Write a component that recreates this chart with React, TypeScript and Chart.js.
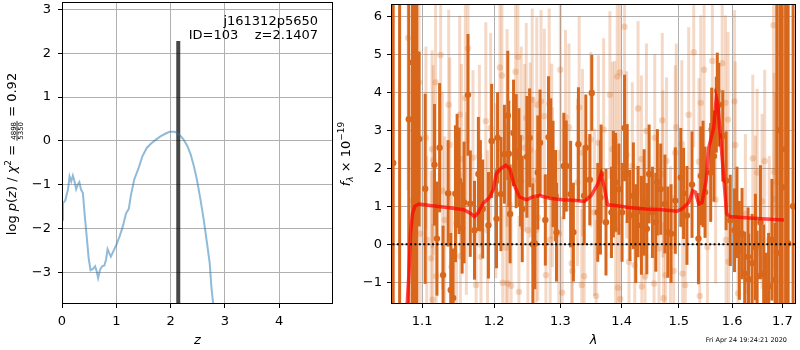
import React, { useEffect, useRef } from "react";
import { Chart, registerables } from "chart.js";
Chart.register(...registerables);

const FONT = "'DejaVu Sans', sans-serif";

// ---------- left panel: log p(z) ----------
const zGrid = [0, 0.018, 0.06, 0.11, 0.14, 0.17, 0.2, 0.23, 0.26, 0.29, 0.32, 0.35, 0.385, 0.415, 0.46, 0.49, 0.525, 0.57, 0.61, 0.64, 0.665, 0.7, 0.74, 0.78, 0.81, 0.84, 0.87, 0.9, 0.93, 1.0, 1.06, 1.12, 1.18, 1.23, 1.27, 1.33, 1.41, 1.48, 1.56, 1.64, 1.73, 1.82, 1.91, 1.98, 2.08, 2.16, 2.23, 2.31, 2.37, 2.43, 2.49, 2.55, 2.61, 2.67, 2.72, 2.75, 2.785, 2.82];
const logPz = [-1.8, -1.42, -1.36, -1.11, -0.81, -0.92, -0.79, -0.92, -1.1, -1.0, -0.94, -1.11, -1.19, -1.65, -2.25, -2.67, -2.95, -2.92, -2.86, -2.98, -3.13, -2.94, -2.86, -2.84, -2.71, -2.47, -2.56, -2.64, -2.56, -2.37, -2.18, -1.95, -1.65, -1.55, -1.23, -0.88, -0.62, -0.35, -0.16, -0.06, 0.03, 0.11, 0.17, 0.21, 0.21, 0.14, 0.05, -0.12, -0.31, -0.58, -0.92, -1.34, -1.8, -2.33, -2.79, -3.32, -3.74, -4.1];
const zBest = 2.1407;
const zMarkerRange = [-4.5, 2.28];
const zTicks = [0, 1, 2, 3, 4];
const logPTicks = [-3, -2, -1, 0, 1, 2, 3];
const annotLines = ["j161312p5650", "ID=103    z=2.1407"];

// ---------- right panel: spectrum ----------
const lamDark = [1.0622, 1.0705, 1.0824, 1.0873, 1.0903, 1.093, 1.096, 1.1041, 1.1166, 1.1199, 1.1235, 1.1282, 1.1351, 1.1387, 1.142, 1.1452, 1.1475, 1.1503, 1.1545, 1.1572, 1.1627, 1.1659, 1.1719, 1.1774, 1.1802, 1.1835, 1.1918, 1.1964, 1.2035, 1.205, 1.2099, 1.215, 1.22, 1.2215, 1.2234, 1.2285, 1.2324, 1.2365, 1.2388, 1.2415, 1.2485, 1.2526, 1.2575, 1.2605, 1.265, 1.2685, 1.2766, 1.2815, 1.285, 1.2886, 1.2925, 1.294, 1.3055, 1.3093, 1.3162, 1.3206, 1.3287, 1.338, 1.3406, 1.3471, 1.3503, 1.3601, 1.3645, 1.3656, 1.3737, 1.3828, 1.386, 1.3899, 1.3953, 1.4007, 1.4049, 1.4094, 1.4141, 1.4199, 1.424, 1.428, 1.4338, 1.4385, 1.4432, 1.4472, 1.453, 1.4589, 1.4617, 1.4676, 1.4751, 1.4803, 1.4861, 1.4937, 1.5037, 1.5088, 1.5149, 1.5242, 1.5361, 1.5404, 1.5447, 1.5484, 1.559, 1.5609, 1.5652, 1.5696, 1.5715, 1.5745, 1.5819, 1.5883, 1.5963, 1.6046, 1.6093, 1.6139, 1.6192, 1.6244, 1.6311, 1.6323, 1.6391, 1.6456, 1.649, 1.6556, 1.6621, 1.6669, 1.672, 1.6788, 1.6853, 1.6887, 1.6952, 1.6998, 1.7067, 1.712, 1.7222];
const fluxDark = [2.14, 6.8, 3.29, 4.78, 5.41, 4.65, 2.77, 1.46, 2.09, 0.15, 2.54, -0.81, 1.34, -1.2, -1.41, 1.33, 1.93, 1.67, 0.43, 1.1, 3.93, 1.07, 0.37, 1.85, 1.54, 0.93, 0.5, 2.72, 0.67, 2.8, 1.32, 2.37, 3.39, 2.38, 0.8, 2.93, 2.45, 2.28, 1.67, 0.93, 2.3, 2.8, 0.0, 0.02, 1.89, 2.67, 0.64, 2.82, 2.54, 1.85, 1.28, 0.32, 2.06, 2.06, 1.32, 0.32, 2.63, 1.28, 2.54, 1.7, 3.98, 0.84, 1.23, 1.85, 0.58, 0.84, 1.58, 1.63, 1.45, 0.84, 3.06, 1.86, 0.76, 1.28, 0.28, 0.86, 0.5, 1.1, 0.41, 1.85, 0.84, 0.58, 1.63, 1.45, 1.06, 0.32, 0.28, 1.15, 1.76, 1.34, 0.76, 1.57, 0.15, 1.8, 1.85, 1.37, 1.89, 3.02, 2.32, 3.41, 4.04, 3.67, 2.85, 1.67, 0.63, 0.37, 0.84, -0.16, 0.28, -0.77, -0.33, -0.92, -0.5, -0.07, -0.84, 0.58, -0.78, -1.42, -1.1, 0.12, -0.94, -0.23, 3.0, 1.5, 2.5, 0.02, 1.0];
const errDark = [10, 10, 10, 10, 10, 10, 2.3, 2.5, 1.6, 1.5, 1.7, 1.3, 1.4, 1.5, 1.3, 1.8, 1.5, 1.4, 1.2, 1.6, 1.6, 1.4, 1.3, 1.5, 1.2, 1.3, 1.4, 1.5, 1.3, 1.2, 1.5, 1.3, 1.7, 1.4, 1.3, 1.4, 1.5, 1.3, 1.2, 1.4, 1.6, 1.3, 1.6, 1.2, 1.5, 1.4, 1.2, 1.6, 1.3, 1.4, 1.2, 1.3, 1.4, 1.2, 1.4, 1.3, 1.5, 1.3, 1.4, 1.2, 1.0, 1.3, 1.5, 1.3, 1.4, 1.2, 1.4, 1.3, 1.2, 1.3, 1.4, 1.3, 1.2, 1.4, 1.3, 1.2, 1.3, 1.4, 1.2, 1.3, 1.2, 1.3, 1.4, 1.2, 1.3, 1.2, 1.3, 1.4, 1.3, 1.2, 1.3, 1.4, 1.2, 1.3, 1.4, 1.2, 1.3, 1.1, 1.2, 1.0, 1.0, 1.1, 1.2, 1.3, 1.2, 1.1, 1.2, 1.3, 1.2, 1.1, 1.3, 1.2, 1.3, 1.4, 1.2, 1.5, 1.3, 1.2, 1.4, 1.6, 1.5, 10, 10, 10, 10, 10, 10];

const lamLight = [1.0815, 1.086, 1.0903, 1.0917, 1.096, 1.0974, 1.1051, 1.1062, 1.112, 1.1134, 1.1141, 1.1148, 1.118, 1.1189, 1.1249, 1.1272, 1.1304, 1.1359, 1.1373, 1.1397, 1.1466, 1.1511, 1.1521, 1.1535, 1.159, 1.1604, 1.1627, 1.1697, 1.1742, 1.1788, 1.1811, 1.188, 1.1904, 1.1949, 1.2024, 1.2084, 1.2114, 1.2125, 1.2174, 1.2189, 1.22, 1.2249, 1.2315, 1.235, 1.2365, 1.24, 1.2451, 1.2475, 1.25, 1.2535, 1.2565, 1.2575, 1.2625, 1.2635, 1.265, 1.27, 1.2751, 1.2775, 1.2826, 1.2841, 1.2865, 1.2876, 1.2976, 1.3, 1.3028, 1.3081, 1.3136, 1.3179, 1.319, 1.3271, 1.3299, 1.3341, 1.3352, 1.338, 1.3487, 1.3547, 1.3575, 1.3612, 1.3698, 1.3802, 1.3844, 1.3883, 1.3899, 1.3925, 1.3936, 1.3969, 1.3977, 1.4049, 1.4084, 1.4124, 1.4181, 1.4223, 1.428, 1.4338, 1.4345, 1.4402, 1.4425, 1.4559, 1.4571, 1.4646, 1.4704, 1.4716, 1.4725, 1.4763, 1.478, 1.485, 1.4908, 1.4937, 1.4955, 1.5056, 1.5069, 1.5119, 1.5181, 1.5274, 1.5372, 1.5385, 1.5404, 1.5466, 1.5529, 1.5622, 1.5683, 1.5808, 1.587, 1.5883, 1.592, 1.5931, 1.6046, 1.606, 1.6113, 1.6258, 1.6403, 1.6456, 1.649, 1.6589, 1.6641, 1.6734, 1.6819, 1.6833, 1.6853, 1.6887, 1.6952];
const fluxLight = [5.43, 1.15, 1.5, 2.54, 4.26, 0.28, 2.8, 0.12, -0.37, 2.5, -1.46, 2.21, 4.26, -0.84, 4.98, 1.41, 0.64, 3.67, 2.61, -0.59, 0.56, 3.41, -0.31, 2.24, 3.85, 1.07, 5.15, 2.28, -1.07, 2.32, -0.33, 3.24, 0.37, 3.06, 1.41, 4.65, 4.44, -1.01, -0.09, 3.06, -1.03, -1.09, 4.54, 4.93, -1.25, 2.8, 2.54, 3.32, 0.37, 2.48, 3.8, 1.67, 0.38, 3.67, 0.71, 3.76, 3.37, -0.81, 3.7, 0.12, 2.45, 1.5, 0.28, 4.59, -1.27, 3.34, 3.08, -0.5, -0.7, 1.63, 3.6, -1.07, 2.41, -0.84, 2.76, 0.84, -1.36, 2.67, 3.02, 3.93, 2.5, 2.72, 0.38, 4.41, -1.14, 4.52, -1.44, 5.72, 2.35, -0.46, 2.06, -0.55, 3.57, 2.24, -1.11, -0.85, 2.98, -1.03, 2.8, -0.11, 3.26, 1.85, -1.42, -0.81, 2.19, -0.05, -0.7, 2.41, 3.08, 2.64, -0.77, -1.07, 3.41, 5.05, 2.17, -1.36, 3.72, 4.59, -0.07, 4.82, 1.17, 4.76, 3.72, 0.12, 3.28, -0.46, 3.76, 2.61, -1.29, 0.8, 2.26, 0.56, 1.89, 1.13, 2.19, 0.12, 5.76, 1.91, 1.19, 1.63, 5.02];
const errLight = [4.0, 3.5, 3.0, 3.2, 3.0, 2.6, 2.4, 2.2, 2.3, 2.6, 2.0, 2.5, 2.2, 2.1, 2.4, 2.6, 2.2, 2.5, 2.3, 2.0, 2.4, 2.6, 2.2, 2.5, 2.7, 2.4, 2.5, 2.3, 2.0, 2.4, 2.2, 2.6, 2.1, 2.5, 2.3, 2.2, 2.4, 2.0, 2.3, 2.6, 2.1, 2.2, 2.5, 2.3, 2.0, 2.4, 2.2, 2.5, 2.2, 2.3, 2.4, 2.2, 2.1, 2.3, 2.2, 2.4, 2.3, 2.0, 2.5, 2.2, 2.3, 2.1, 2.2, 2.4, 2.0, 2.3, 2.2, 2.1, 2.0, 2.2, 2.4, 2.0, 2.2, 2.1, 2.3, 2.2, 2.0, 2.3, 2.4, 2.2, 2.3, 2.1, 2.2, 2.3, 2.0, 2.4, 2.0, 2.6, 2.2, 2.1, 2.2, 2.0, 2.3, 2.2, 2.0, 2.1, 2.3, 2.0, 2.2, 2.1, 2.3, 2.2, 2.0, 2.1, 2.2, 2.1, 2.0, 2.3, 2.2, 2.2, 2.0, 2.1, 2.3, 2.5, 2.2, 2.0, 2.3, 2.4, 2.1, 2.5, 2.2, 2.4, 2.3, 2.1, 2.3, 2.0, 2.4, 2.2, 2.0, 2.1, 2.2, 2.3, 2.2, 2.3, 2.4, 2.2, 5.0, 2.6, 2.8, 5.0, 5.0];

const lamModel = [1.0791, 1.0824, 1.0847, 1.0873, 1.0903, 1.096, 1.1106, 1.1337, 1.1567, 1.1659, 1.1719, 1.1774, 1.1843, 1.1936, 1.199, 1.203, 1.209, 1.217, 1.223, 1.229, 1.237, 1.248, 1.258, 1.268, 1.283, 1.3032, 1.325, 1.3385, 1.3493, 1.36, 1.3656, 1.3709, 1.3763, 1.3899, 1.4124, 1.4415, 1.4704, 1.4965, 1.5056, 1.5181, 1.5255, 1.5305, 1.5367, 1.5428, 1.5503, 1.5553, 1.5646, 1.5696, 1.5726, 1.5771, 1.5832, 1.5894, 1.5957, 1.6252, 1.6581, 1.7033];
const fluxModel = [-2.0, -0.85, 0.28, 0.8, 1.0, 1.06, 1.02, 0.97, 0.91, 0.82, 0.73, 0.84, 1.08, 1.24, 1.45, 1.85, 1.98, 2.08, 1.98, 1.58, 1.25, 1.17, 1.25, 1.28, 1.21, 1.17, 1.15, 1.13, 1.28, 1.58, 1.85, 1.5, 1.04, 1.02, 0.97, 0.93, 0.91, 0.87, 0.93, 1.1, 1.41, 1.37, 1.06, 1.1, 1.67, 2.54, 3.06, 3.85, 3.67, 2.89, 1.85, 0.8, 0.73, 0.7, 0.67, 0.64];
const zeroLineLam = [1.05, 1.75];
const lamTicks = [1.1, 1.2, 1.3, 1.4, 1.5, 1.6, 1.7];
const fluxTicks = [-1, 0, 1, 2, 3, 4, 5, 6];
const timestamp = "Fri Apr 24 19:24:21 2020";

const DARK = "#d8671c";
const LIGHT = "rgba(216,103,28,0.25)";

const fmt = (v: number, d: number) => {
  const s = Math.abs(v).toFixed(d);
  return v < 0 ? "\u2212" + s : s;
};

const framePlugin = {
  id: "frame",
  afterDraw(chart: any) {
    const { ctx, chartArea: a } = chart;
    ctx.save();
    ctx.strokeStyle = "#000";
    ctx.lineWidth = 1;
    ctx.strokeRect(a.left + 0.5, a.top + 0.5, a.right - a.left - 1, a.bottom - a.top - 1);
    ctx.restore();
  },
};

const errorBarPlugin = {
  id: "errbars",
  beforeDatasetDraw(chart: any, args: any) {
    const ds: any = chart.data.datasets[args.index];
    if (!ds.errors) return;
    const { ctx, chartArea: a } = chart;
    const xs = chart.scales.x;
    const ys = chart.scales.y;
    ctx.save();
    ctx.beginPath();
    ctx.rect(a.left, a.top, a.right - a.left, a.bottom - a.top);
    ctx.clip();
    ctx.strokeStyle = ds.errColor;
    ctx.lineWidth = ds.errWidth;
    ctx.lineCap = "butt";
    ds.data.forEach((p: any, i: number) => {
      const e = ds.errors[i];
      const px = xs.getPixelForValue(p.x);
      const y1 = ys.getPixelForValue(p.y - e);
      const y2 = ys.getPixelForValue(p.y + e);
      ctx.beginPath();
      ctx.moveTo(px, y1);
      ctx.lineTo(px, y2);
      ctx.stroke();
    });
    ctx.restore();
  },
};

type Piece = { t: string; f: string; dy?: number; frac?: [string, string] };

function drawPieces(ctx: CanvasRenderingContext2D, pieces: Piece[], cx: number, cy: number) {
  ctx.save();
  ctx.translate(cx, cy);
  ctx.rotate(-Math.PI / 2);
  ctx.fillStyle = "#000";
  ctx.textBaseline = "alphabetic";
  ctx.textAlign = "left";
  const widths = pieces.map((p) => {
    ctx.font = p.f;
    if (p.frac) return Math.max(ctx.measureText(p.frac[0]).width, ctx.measureText(p.frac[1]).width) + 2;
    return ctx.measureText(p.t).width;
  });
  const total = widths.reduce((s, w) => s + w, 0);
  let x = -total / 2;
  pieces.forEach((p, i) => {
    ctx.font = p.f;
    if (p.frac) {
      const w = widths[i];
      const n = ctx.measureText(p.frac[0]).width;
      const d = ctx.measureText(p.frac[1]).width;
      ctx.fillText(p.frac[0], x + (w - n) / 2, 0.2);
      ctx.fillRect(x, 1.1, w, 0.8);
      ctx.fillText(p.frac[1], x + (w - d) / 2, 7.6);
    } else {
      ctx.fillText(p.t, x, p.dy || 0);
    }
    x += widths[i];
  });
  ctx.restore();
}

const leftTextPlugin = {
  id: "leftText",
  afterDraw(chart: any) {
    const ctx = chart.ctx as CanvasRenderingContext2D;
    const a = chart.chartArea;
    ctx.save();
    ctx.fillStyle = "#000";
    ctx.font = `13px ${FONT}`;
    ctx.textAlign = "right";
    ctx.textBaseline = "alphabetic";
    ctx.fillText(annotLines[0], a.right - 15, 24.5);
    ctx.fillText(annotLines[1], a.right - 15, 38.5);
    ctx.restore();
    const N = `13px ${FONT}`;
    const I = `italic 13px ${FONT}`;
    drawPieces(
      ctx,
      [
        { t: "log ", f: N },
        { t: "p", f: I },
        { t: "(", f: N },
        { t: "z", f: I },
        { t: ") / ", f: N },
        { t: "\u03c7", f: I },
        { t: "2", f: `9px ${FONT}`, dy: -5 },
        { t: " = ", f: N },
        { t: "", f: `7px ${FONT}`, frac: ["4898", "5350"] },
        { t: " = 0.92", f: N },
      ],
      15.5,
      154
    );
  },
};

const rightTextPlugin = {
  id: "rightText",
  afterDraw(chart: any) {
    const ctx = chart.ctx as CanvasRenderingContext2D;
    const N = `13px ${FONT}`;
    drawPieces(
      ctx,
      [
        { t: "f", f: `italic 13px ${FONT}` },
        { t: "\u03bb", f: `italic 9px ${FONT}`, dy: 3 },
        { t: " \u00d7 10", f: N },
        { t: "\u221219", f: `9px ${FONT}`, dy: -6 },
      ],
      15,
      154
    );
    ctx.save();
    ctx.fillStyle = "#000";
    ctx.font = `6.5px ${FONT}`;
    ctx.textAlign = "right";
    ctx.textBaseline = "alphabetic";
    ctx.fillText(timestamp, 452, 342);
    ctx.restore();
  },
};

const gridOpts = { color: "#b0b0b0", lineWidth: 1, tickLength: 4, tickColor: "#000", drawTicks: true };

const fixX = (s: any) => {
  s.height = 46;
  s.paddingLeft = 0;
  s.paddingRight = 0;
};
const fixY = (w: number) => (s: any) => {
  s.width = w;
  s.paddingTop = 0;
  s.paddingBottom = 0;
};

export default function App() {
  const leftRef = useRef<HTMLCanvasElement>(null);
  const rightRef = useRef<HTMLCanvasElement>(null);

  useEffect(() => {
    Chart.defaults.font.family = FONT;
    Chart.defaults.font.size = 13;
    Chart.defaults.color = "#000";

    const left = new Chart(leftRef.current as HTMLCanvasElement, {
      type: "scatter",
      data: {
        datasets: [
          {
            data: zGrid.map((z, i) => ({ x: z, y: logPz[i] })),
            showLine: true,
            borderColor: "rgba(31,119,180,0.5)",
            borderWidth: 2,
            pointRadius: 0,
            tension: 0,
            clip: 0,
          } as any,
          {
            data: zMarkerRange.map((y) => ({ x: zBest, y })),
            showLine: true,
            borderColor: "rgba(0,0,0,0.72)",
            borderWidth: 4,
            pointRadius: 0,
            clip: 0,
          } as any,
        ],
      },
      options: {
        responsive: false,
        animation: false,
        events: [],
        layout: { padding: { top: 2, right: 7, left: 0, bottom: 0 } },
        plugins: { legend: { display: false }, tooltip: { enabled: false } },
        scales: {
          x: {
            type: "linear",
            min: 0,
            max: 4.99,
            afterBuildTicks: (s: any) => {
              s.ticks = zTicks.map((v) => ({ value: v }));
            },
            afterFit: fixX,
            ticks: { padding: 6, maxRotation: 0, autoSkip: false, callback: (v: any) => fmt(Number(v), 0) },
            grid: gridOpts,
            border: { display: false },
            title: { display: true, text: "z", font: { style: "italic", size: 13 }, padding: { top: 0, bottom: 2 } },
          },
          y: {
            type: "linear",
            min: -3.72,
            max: 3.17,
            afterBuildTicks: (s: any) => {
              s.ticks = logPTicks.map((v) => ({ value: v }));
            },
            afterFit: fixY(62),
            ticks: { padding: 7, autoSkip: false, callback: (v: any) => fmt(Number(v), 0) },
            grid: gridOpts,
            border: { display: false },
          },
        },
      } as any,
      plugins: [framePlugin, leftTextPlugin],
    });

    const right = new Chart(rightRef.current as HTMLCanvasElement, {
      type: "scatter",
      data: {
        datasets: [
          {
            data: zeroLineLam.map((x) => ({ x, y: 0 })),
            showLine: true,
            borderColor: "#000",
            borderWidth: 2,
            borderDash: [2, 2.4],
            pointRadius: 0,
            clip: 0,
          } as any,
          {
            data: lamModel.map((x, i) => ({ x, y: fluxModel[i] })),
            showLine: true,
            borderColor: "rgba(255,0,0,0.7)",
            borderWidth: 3.5,
            pointRadius: 0,
            tension: 0,
            clip: 0,
          } as any,
          {
            data: lamDark.map((x, i) => ({ x, y: fluxDark[i] })),
            errors: errDark,
            errColor: DARK,
            errWidth: 3,
            pointRadius: 3.2,
            pointBorderWidth: 0,
            backgroundColor: DARK,
            borderColor: DARK,
            clip: 0,
          } as any,
          {
            data: lamLight.map((x, i) => ({ x, y: fluxLight[i] })),
            errors: errLight,
            errColor: LIGHT,
            errWidth: 3,
            pointRadius: 3.2,
            pointBorderWidth: 0,
            backgroundColor: LIGHT,
            borderColor: LIGHT,
            clip: 0,
          } as any,
        ],
      },
      options: {
        responsive: false,
        animation: false,
        events: [],
        layout: { padding: { top: 2, right: 2, left: 0, bottom: 0 } },
        plugins: { legend: { display: false }, tooltip: { enabled: false } },
        scales: {
          x: {
            type: "logarithmic",
            min: 1.0594,
            max: 1.7283,
            afterBuildTicks: (s: any) => {
              s.ticks = lamTicks.map((v) => ({ value: v }));
            },
            afterFit: fixX,
            ticks: { padding: 6, maxRotation: 0, autoSkip: false, callback: (v: any) => Number(v).toFixed(1) },
            grid: gridOpts,
            border: { display: false },
            title: { display: true, text: "\u03bb", font: { style: "italic", size: 13 }, padding: { top: 0, bottom: 2 } },
          },
          y: {
            type: "linear",
            min: -1.57,
            max: 6.32,
            afterBuildTicks: (s: any) => {
              s.ticks = fluxTicks.map((v) => ({ value: v }));
            },
            afterFit: fixY(56),
            ticks: { padding: 5, autoSkip: false, callback: (v: any) => fmt(Number(v), 0) },
            grid: gridOpts,
            border: { display: false },
          },
        },
      } as any,
      plugins: [errorBarPlugin, framePlugin, rightTextPlugin],
    });

    return () => {
      left.destroy();
      right.destroy();
    };
  }, []);

  return (
    <div style={{ position: "absolute", left: 0, top: 0, width: 800, height: 350, background: "#fff" }}>
      <canvas ref={leftRef} width={340} height={350} style={{ position: "absolute", left: 0, top: 0 }} />
      <canvas ref={rightRef} width={465} height={350} style={{ position: "absolute", left: 335, top: 0 }} />
    </div>
  );
}
